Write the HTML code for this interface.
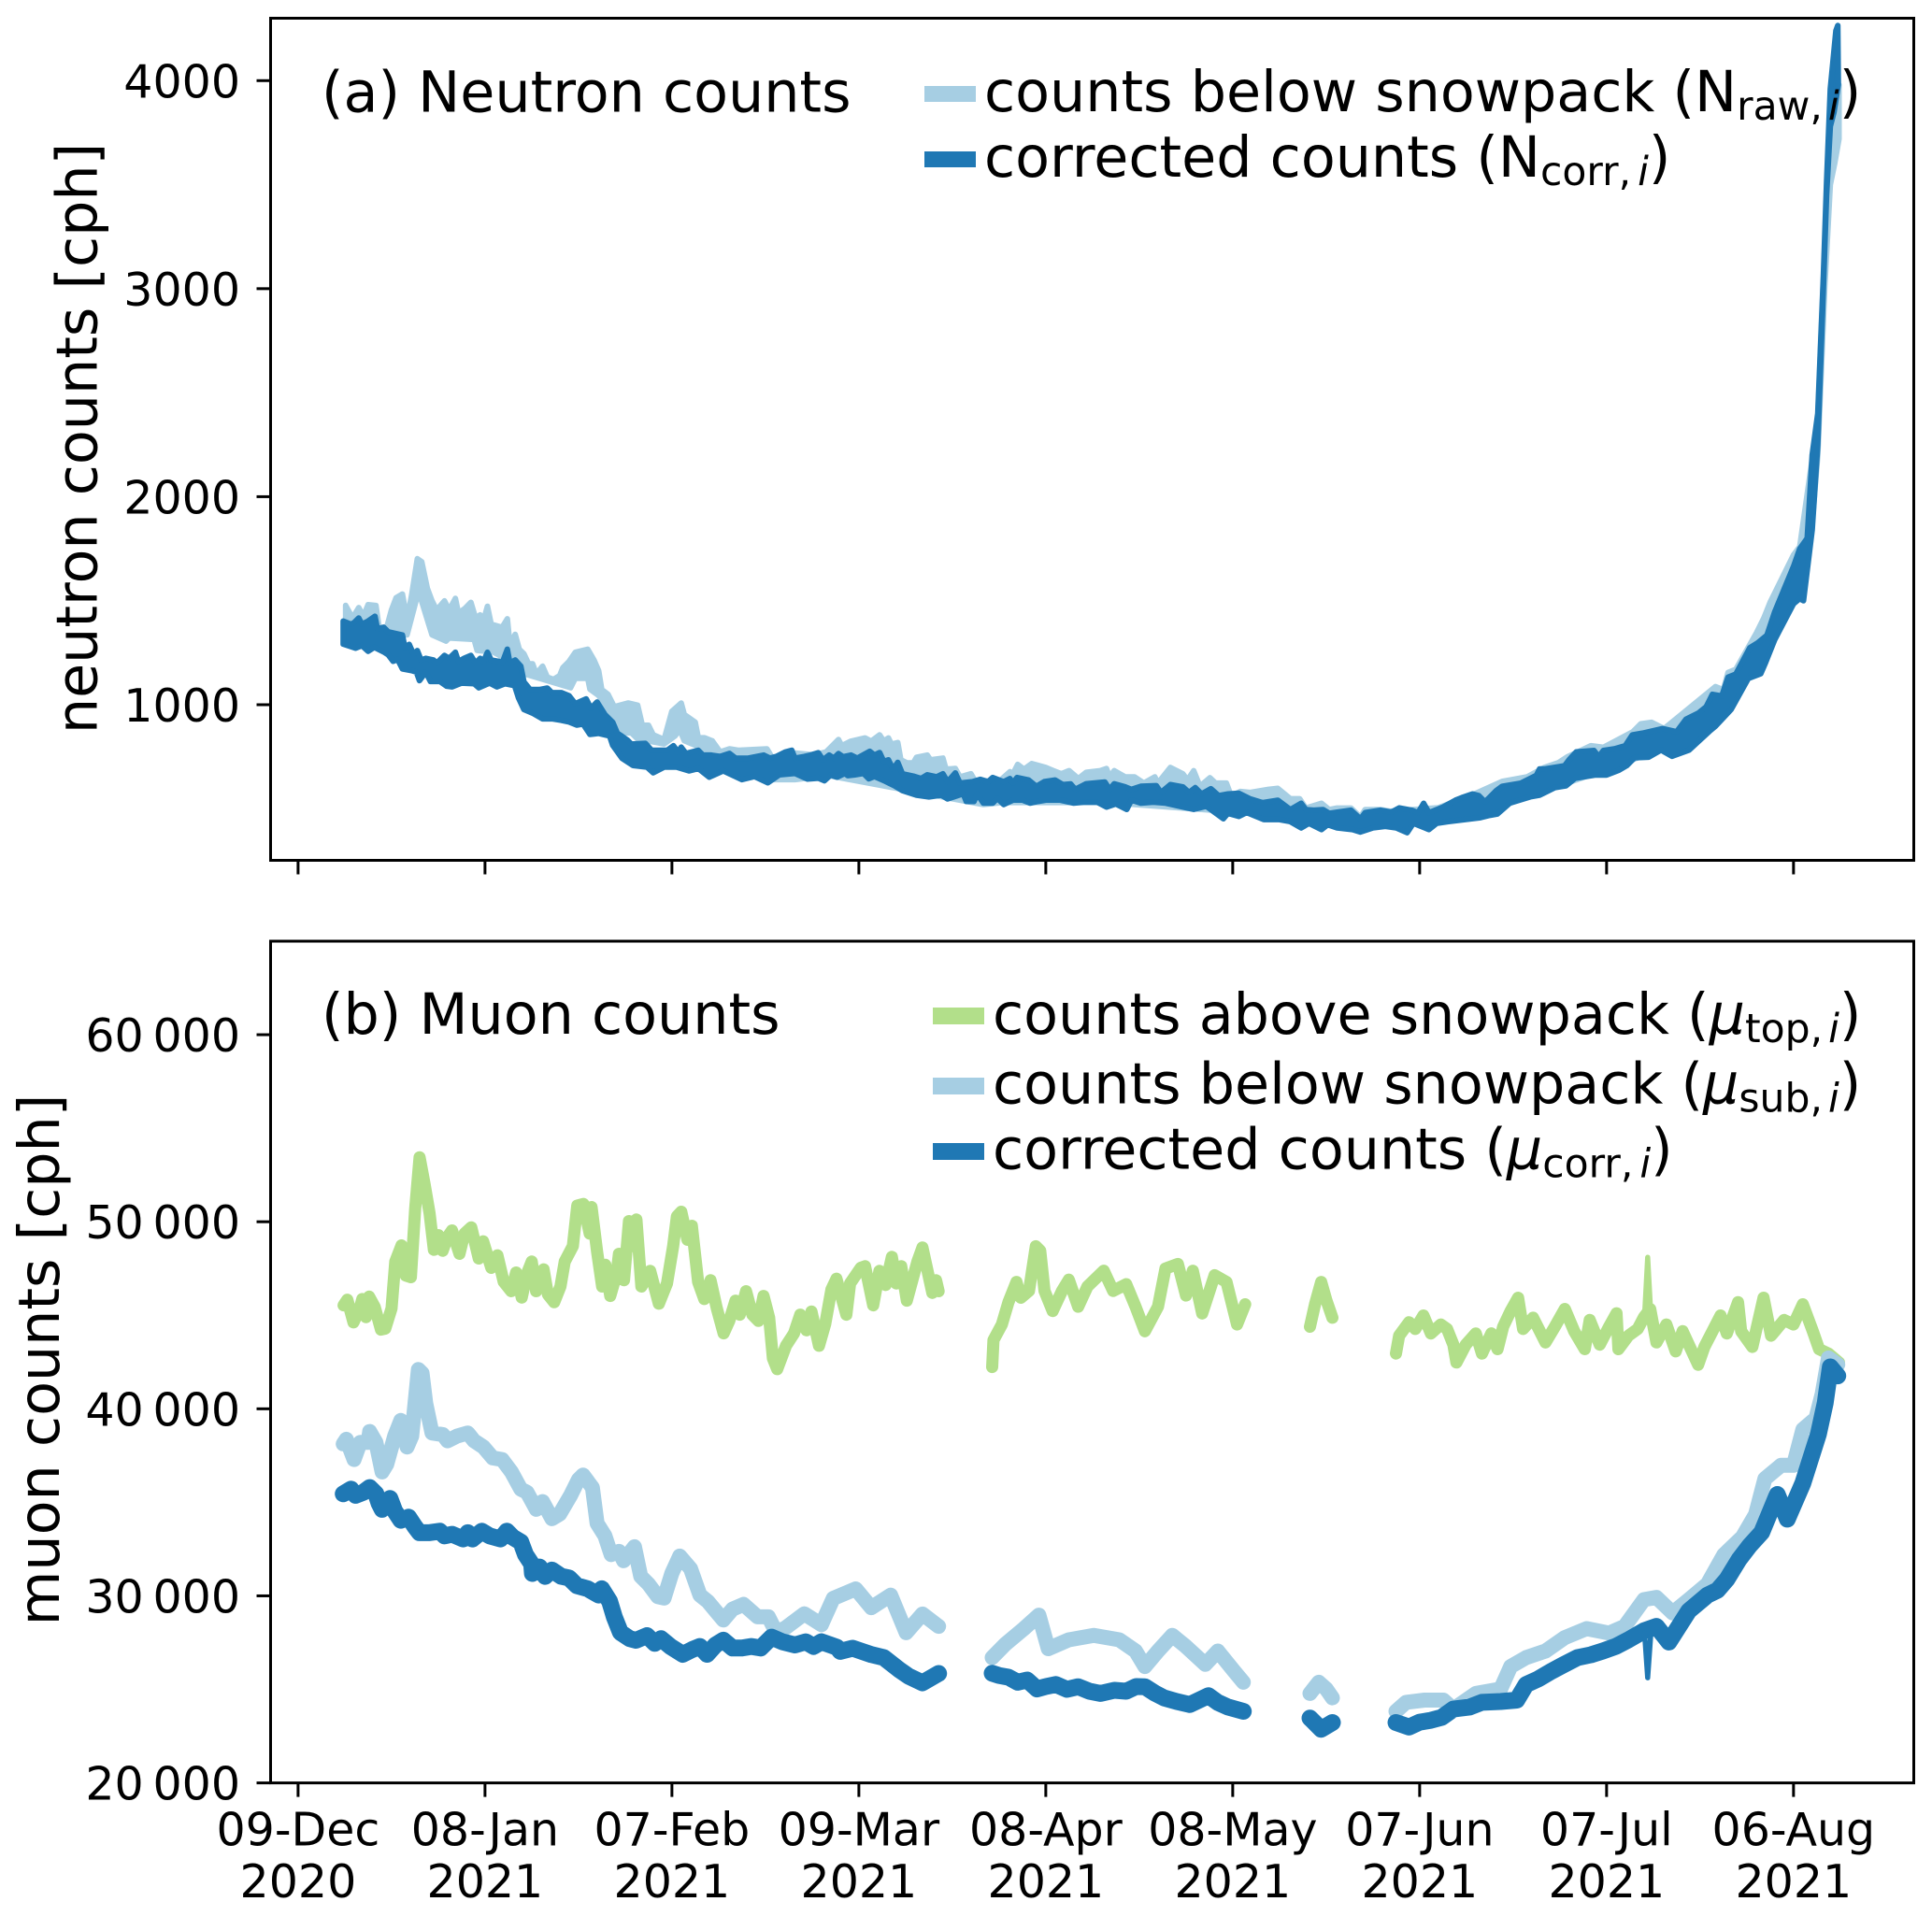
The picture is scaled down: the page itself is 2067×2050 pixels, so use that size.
<!DOCTYPE html>
<html lang="en">
<head>
<meta charset="utf-8">
<title>Neutron and muon counts</title>
<style>
html,body{margin:0;padding:0;background:#fff;}
svg{display:block;}
text{font-family:"DejaVu Sans","Liberation Sans",sans-serif;fill:#000;}
.tick{font-size:49px;}
.label{font-size:60.3px;}
.leg{font-size:60.3px;}
.sub{font-size:42.5px;}
.it{font-style:italic;}
</style>
</head>
<body>
<svg id="chart" xmlns="http://www.w3.org/2000/svg" width="2067" height="2050" viewBox="0 0 2067 2050">
  <rect x="0" y="0" width="2067" height="2050" fill="#ffffff"/>
  <g id="panel-a-marks"></g>
  <g id="panel-b-marks"></g>
  <rect x="289.5" y="19.5" width="1758" height="901" fill="none" stroke="#000" stroke-width="3"/>
  <rect x="289.5" y="1007" width="1758" height="900.6" fill="none" stroke="#000" stroke-width="3"/>
  <g id="axes-a"></g>
  <g id="axes-b"></g>

  <text class="label" transform="translate(103.5 469) rotate(-90)" text-anchor="middle">neutron counts [cph]</text>
  <text class="label" transform="translate(63 1455) rotate(-90)" text-anchor="middle">muon counts [cph]</text>

  <text class="label" x="344" y="119.5">(a) Neutron counts</text>
  <text class="label" x="344" y="1106">(b) Muon counts</text>

  <g>
    <rect x="989" y="92" width="55" height="17" fill="#a6cee3"/>
    <text class="leg" x="1053" y="119">counts below snowpack (N<tspan class="sub" dy="9">raw,</tspan><tspan class="sub it" dx="6">i</tspan><tspan dy="-9">)</tspan></text>
    <rect x="989" y="162" width="55" height="17" fill="#1f78b4"/>
    <text class="leg" x="1053" y="189">corrected counts (N<tspan class="sub" dy="9">corr,</tspan><tspan class="sub it" dx="7">i</tspan><tspan dy="-9">)</tspan></text>
  </g>
  <g>
    <rect x="998" y="1078" width="55" height="18" fill="#b2df8a"/>
    <text class="leg" x="1062" y="1106">counts above snowpack (<tspan class="it">μ</tspan><tspan class="sub" dy="9">top,</tspan><tspan class="sub it" dx="6">i</tspan><tspan dy="-9">)</tspan></text>
    <rect x="998" y="1153" width="55" height="18" fill="#a6cee3"/>
    <text class="leg" x="1062" y="1180.5">counts below snowpack (<tspan class="it">μ</tspan><tspan class="sub" dy="9">sub,</tspan><tspan class="sub it" dx="6">i</tspan><tspan dy="-9">)</tspan></text>
    <rect x="998" y="1223" width="55" height="18" fill="#1f78b4"/>
    <text class="leg" x="1062" y="1250.5">corrected counts (<tspan class="it">μ</tspan><tspan class="sub" dy="9">corr,</tspan><tspan class="sub it" dx="7">i</tspan><tspan dy="-9">)</tspan></text>
  </g>
</svg>
<script>
// ---- axis tick data (days counted from 09-Dec-2020) ----
const xTickDays = [0,30,60,90,120,150,180,210,240];
const xTickDates = ['09-Dec','08-Jan','07-Feb','09-Mar','08-Apr','08-May','07-Jun','07-Jul','06-Aug'];
const xTickYears = ['2020','2021','2021','2021','2021','2021','2021','2021','2021'];
const neutronTicks = [1000,2000,3000,4000];
const neutronTickLabels = ['1000','2000','3000','4000'];
const muonTicks = [20000,30000,40000,50000,60000];
const muonTickLabels = ['20\u2009000','30\u2009000','40\u2009000','50\u2009000','60\u2009000'];

// ---- neutron: raw counts, upper and lower edge of the noisy band ----
const rawUpperDays = [7.64,8.74,9.74,10.49,11.24,12.49,12.99,14.24,14.99,15.74,16.74,17.49,18.24,19.14,19.84,20.74,21.49,22.24,23.49,24.24,25.24,25.74,26.74,27.74,28.49,29.24,29.74,30.39,30.99,32.74,33.59,33.99,34.84,35.49,36.24,36.99,37.64,38.24,39.24,39.99,40.99,41.99,42.49,43.49,44.49,46.49,47.49,48.24,48.74,49.74,50.74,52.99,54.49,55.24,56.24,56.99,58.74,59.99,61.49,61.99,63.74,64.24,65.24,66.49,67.74,69.24,70.74,75.24,75.99,76.9,79,82.9,84.74,85.74,86.74,87.24,88.74,90.99,91.99,93.34,93.99,94.74,95.24,96.24,96.74,97.74,98.74,99.24,100.99,101.49,103.49,103.99,105.49,106.24,107.99,108.74,112.74,114.24,114.74,115.49,116.49,117.74,119.99,121.24,122.49,123.74,125.24,126.49,128.74,129.74,130.24,130.99,132.74,134.24,135.74,137.49,137.99,139.99,141.99,142.74,143.74,144.74,146.34,147.24,148.99,149.74,151.24,152.74,155.74,157.24,159.24,160.74,161.74,164.24,165.49,166.74,168.99,170.49,171.24,173.74,175.24,183,188,193.24,197.24,199.99,202.24,203.74,207.49,209.49,214.24,215.49,217.24,219.24,227.49,228.74,229.49,230.74,233.99,235.24,236.24,240,241,243,243.9,244.8,245.9,246.7,247.3];
const rawUpperCounts = [1477,1417,1467,1425,1481,1477,1372,1372,1455,1514,1532,1410,1529,1702,1687,1559,1499,1455,1499,1455,1511,1440,1462,1492,1417,1432,1402,1473,1387,1372,1413,1290,1338,1267,1245,1197,1197,1148,1185,1133,1122,1140,1178,1208,1252,1267,1215,1163,1073,1050,990,1008,998,901,901,856,833,968,1008,953,916,841,841,826,773,788,781,788,751,744,770,759,773,803,833,803,825,840,825,855,825,840,810,818,735,720,720,747,758,735,743,690,693,653,668,630,638,678,668,713,690,717,698,683,668,683,645,675,683,693,653,683,653,653,623,653,623,698,668,638,683,608,649,623,623,563,583,578,593,598,548,548,503,526,496,503,503,459,496,496,488,505,560,631,653,698,721,750,803,795,870,908,915,885,1087,1072,1155,1170,1342,1417,1492,1720,1760,2180,2380,3040,3900,4000,3980];
const rawLowerDays = [7.64,17.49,19.34,21.49,23.74,24.24,28.24,28.74,31.24,32.24,36.24,43.74,44.49,46.49,46.84,48.24,51.24,52.24,53.49,54.49,58.74,60.49,61.24,61.99,63.74,76.24,79.74,85,109.99,113,130,148,156,160,172,185.74,190,210,220,226,232,236.9,241,243,243.9,245,245.9,246.6,247.3];
const rawLowerCounts = [1299,1336,1546,1336,1306,1321,1314,1261,1254,1239,1149,1082,1127,1127,1074,1044,910,865,865,835,812,850,880,827,805,640,640,660,520,530,530,490,470,440,430,450,480,690,800,900,1160,1360,1540,1870,2200,3000,3500,3600,3720];

// ---- neutron: corrected counts, upper and lower edge of the noisy band ----
const corrUpperDays = [7.24,8.49,9.0,9.74,10.24,11.24,12.34,12.74,13.74,14.49,15.74,16.74,17.14,17.84,18.49,19.14,19.74,20.49,21.74,22.24,23.49,24.24,25.24,25.74,26.64,27.74,28.49,29.24,29.74,30.39,30.99,32.24,32.74,33.59,33.99,34.84,35.74,36.24,37.24,38.74,39.99,40.74,42.24,43.49,44.49,46.24,46.99,47.99,49.24,50.49,51.24,51.99,52.84,53.49,55.74,56.74,58.24,59.24,60.24,60.99,61.49,62.24,64.24,64.99,66.24,67.74,69.24,70.24,72.24,74.74,75.74,76.74,78.24,79.24,79.74,81.24,82.24,83.49,84.24,85.24,85.99,86.74,87.49,88.74,89.74,91.74,92.49,93.34,93.99,94.74,95.49,96.24,96.99,98.74,99.99,100.99,102.49,103.49,104.24,105.49,106.24,108.24,109.49,110.74,111.49,113.24,114.24,114.74,115.39,117.24,118.49,119.74,121.49,122.74,123.99,124.74,126.49,129.49,130.24,130.99,132.74,133.74,135.24,137.74,138.49,139.99,141.99,142.99,143.99,144.99,146.49,147.74,149.24,150.99,152.74,154.74,157.24,159.24,160.99,161.74,162.99,164.49,165.49,168.99,170.49,171.24,173.74,175.49,176.74,178.74,179.74,180.64,181.49,183.74,185.74,186.74,188.49,189.49,190.49,192.24,193.24,196.24,198.74,199.24,199.99,203.24,203.99,205.14,207.99,208.74,209.49,211.24,212.99,214.14,215.74,218.99,221.24,222.74,224.74,225.99,226.99,228.49,229.49,230.74,232.99,234.24,235.74,236.99,240,241,242.2,243,243.9,244.8,245.3,245.9,246.8,247.1];
const corrUpperCounts = [1402,1387,1395,1417,1387,1402,1425,1365,1372,1350,1342,1335,1275,1290,1245,1260,1215,1223,1215,1200,1237,1223,1252,1208,1223,1237,1200,1223,1208,1252,1215,1208,1200,1267,1200,1215,1185,1110,1073,1073,1080,1058,1058,1043,1005,1028,983,1013,953,916,863,848,830,811,814,781,781,781,803,773,796,766,781,758,758,751,766,743,743,758,743,751,773,781,743,751,758,769,735,758,743,765,750,758,743,776,758,770,728,735,690,723,668,657,645,663,653,668,630,672,623,630,641,630,650,630,645,623,650,638,608,630,638,616,619,593,620,628,593,620,605,593,608,611,578,616,605,578,601,571,596,563,571,574,548,529,541,496,526,496,493,496,478,493,451,481,493,484,504,493,481,526,481,508,541,553,571,563,533,586,608,623,661,691,691,706,736,773,780,750,780,788,803,855,863,885,870,930,960,990,1050,1042,1132,1147,1274,1297,1334,1447,1664,1750,1800,2200,2400,3060,3510,3960,4240,4265];
const corrLowerDays = [7.24,7.99,9.24,10.24,11.24,12.24,13.74,14.49,15.24,15.99,16.74,18.24,18.99,19.49,20.49,21.24,22.74,23.84,24.74,26.24,28.24,28.99,30.74,31.89,33.24,34.74,35.39,36.24,37.74,39.24,40.74,42.24,43.49,44.74,45.74,46.84,48.24,49.99,50.49,51.99,53.74,55.99,56.99,58.74,60.74,62.74,64.24,65.99,68.24,71.24,73.24,75.39,77.24,79.74,81.74,83.49,84.49,85.49,86.49,87.74,88.24,89.24,90.74,91.59,92.49,94.24,95.74,96.99,99.24,101.24,103.24,104.24,106.74,107.24,108.49,108.99,109.99,111.49,112.24,113.24,114.74,116.24,117.49,118.74,119.99,122.24,124.49,126.24,128.24,129.74,131.24,132.99,133.74,135.24,137.24,139.24,141.99,143.74,145.74,148.49,149.24,150.99,152.24,154.99,157.49,159.24,160.99,162.24,164.24,165.24,166.74,169.24,170.49,172.49,174.49,176.24,177.99,178.99,181.49,182.74,184.49,189.74,191.24,192.49,194.49,197.74,199.24,201.74,203.49,204.99,208.24,209.99,211.99,213.24,214.49,216.74,218.74,220.49,223.24,226.49,227.49,229.99,232.74,234.74,235.49,236.99,240,241,241.6,243,243.9,244.8,245.3,245.9,246.5,247.2];
const corrLowerCounts = [1291,1284,1272,1284,1257,1276,1254,1239,1209,1217,1172,1164,1157,1116,1157,1112,1112,1089,1086,1104,1101,1082,1104,1086,1101,1092,1032,977,958,932,932,925,917,902,907,857,862,850,805,742,708,700,673,700,700,682,693,652,682,640,655,625,663,670,643,647,635,662,652,670,659,662,670,644,655,632,610,587,565,557,565,547,572,535,535,572,527,527,550,520,542,542,527,535,542,542,527,532,532,508,523,497,542,527,532,527,508,497,512,452,478,463,482,448,448,438,408,430,400,423,408,400,388,408,415,408,385,430,400,430,438,457,468,475,527,557,565,602,610,647,662,662,685,707,745,748,782,752,782,872,897,977,1126,1149,1201,1313,1485,1510,1500,1840,2250,3000,3450,3780,3850,3980];

// ---- muon: counts above snowpack (null = data gap) ----
const topDays = [7.3,7.9,8.9,9.9,10.3,10.9,11.4,12.3,13.3,14.0,15.0,15.6,16.6,17.3,18.1,18.8,19.5,20.3,21.1,21.8,22.5,23.2,24.0,24.7,25.9,26.7,27.8,29.0,29.7,31.0,32.0,33.0,34.2,35.0,35.9,36.7,37.5,38.2,39.4,40.1,41.1,42.1,42.8,44.1,44.8,45.8,46.8,47.1,48.0,48.8,49.3,50.1,51.1,51.5,52.3,53.1,53.6,54.3,55.1,56.5,57.9,59.2,60.2,60.8,61.5,62.5,63.2,64.2,65.2,66.2,67.2,68.3,69.2,70.2,70.9,71.9,72.9,73.9,74.7,75.6,76.2,76.9,78.3,79.6,80.6,81.6,82.4,83.6,84.6,85.6,86.4,88.0,88.6,90.3,91.0,92.3,93.3,94.3,95.3,96.0,96.8,97.7,99.4,100.2,101.8,102.4,102.8,null,
111.4,111.6,112.95,114,115.3,116,117.3,118.4,119.1,119.8,121.1,122.6,123.7,125.2,126.7,129.3,130.8,132.9,134.4,135.9,138,139.2,141.2,142.5,143.6,145.1,147.1,149,150.7,152,null,
162.4,163.2,164.2,165,166,null,
176.2,176.7,178.3,179.3,180.6,181.8,183.4,184.4,185.4,185.9,187.4,189,190,191.5,192.5,193.4,194.6,195.8,196.6,198.2,200.2,201.7,203.3,204.8,206.5,207.3,208.9,210.4,211.6,211.9,213.5,215,216,217,218,219.6,221.1,222.2,224.7,225.7,228.3,229.3,231.1,231.6,233.4,235.2,236.4,238.5,240,241.5,243.1,244.1,245.6,247.3];
const topCounts = [45535,45835,44620,45370,45870,44900,46000,45450,44235,44290,45370,47870,48735,47120,47035,50700,53450,52030,50450,48500,49285,48450,49200,49535,48285,49365,49700,48035,48950,47535,48200,46785,46285,47285,45950,47200,47870,46285,47450,46120,45700,46535,47870,48700,50865,50950,49365,50785,48370,46535,47700,46035,47200,48285,46870,50035,48700,50120,46535,47370,45620,46700,48700,50285,50535,49035,49785,46785,45870,46870,45370,44035,44700,45785,45035,46285,45035,44700,46035,44870,42700,42120,43370,44035,45035,44200,45200,43370,44535,46370,46950,45035,46700,47535,47620,45535,47370,46620,48120,46700,47620,45785,47870,48620,46200,46870,46285,null,
42237,43672,44510,45700,46780,45940,46300,48690,48450,46300,45226,46300,46900,45460,46540,47380,46300,46660,45460,44150,45460,47500,47740,46060,47380,45100,47140,46780,44510,45590,null,
44390,45590,46780,45830,44870,null,
42955,43910,44630,44270,44990,44030,44510,44270,43430,42477,43430,44030,42955,44030,43190,44390,45226,45940,44270,44870,43550,44390,45340,44150,43190,44750,43430,44390,45110,43190,43910,44270,44900,45340,43550,44510,43070,44150,42357,43310,44990,44030,45700,44150,43310,45940,43910,44750,44510,45590,44150,43190,42955,42477];
const topSpikeDays = [216.1,216.6,217.1];
const topSpikeCounts = [45000,48095,45000];

// ---- muon: counts below snowpack ----
const subDays = [7.24,7.74,8.99,9.99,11.24,11.49,12.49,13.49,14.24,15.49,16.49,17.49,18.24,19.3,19.9,20.49,21.49,23.24,23.99,25.49,27.24,28.24,29.74,31.24,32.74,34.24,35.74,36.74,38.24,39.24,40.74,41.99,43.74,44.99,45.74,47.24,47.99,49.24,50.24,51.49,52.24,53.99,54.99,56.24,57.74,58.74,59.99,61.24,62.99,64.49,65.74,68.24,69.74,71.49,73.74,75.49,76.74,78.24,81.24,83.99,85.9,89.5,92,95.1,97.6,100.2,102.8,null,
111.4,113.5,116.5,118.9,120.4,123.7,127.7,131.8,134.4,135.9,138,140.3,142.5,145.6,147.6,150.2,151.7,null,
162.4,163.8,165,166,null,
176.2,177.8,180.8,183.8,185.4,189,193,194.6,197.1,200.2,203.3,206.8,210.4,212.9,216,218,220.6,223.2,226.2,228.8,231.8,233.9,235.4,238,240,241.5,243.6,244.6,245.6,247.1];
const subCounts = [38123,38373,37290,38206,38206,38789,38206,36624,37040,38539,39376,37956,38539,42100,41900,40289,38706,38623,38290,38539,38706,38290,37956,37373,37290,36624,35707,35541,34624,35041,34124,34374,35374,36207,36457,35790,33875,33208,32209,32375,31876,32625,31042,30626,29960,29876,31209,32125,31459,30043,29710,28710,29293,29543,28877,28877,28044,28294,29043,28460,29870,30375,29370,30040,28030,29030,28370,null,
26700,27410,28250,28970,27175,27650,27890,27650,27050,26220,27050,27890,27290,26340,27050,25980,25380,null,
24780,25380,25020,24545,null,
23825,24305,24425,24425,23945,24780,25020,26220,26700,27050,27770,28250,28010,28370,29800,29920,29090,29800,30640,32190,33150,34350,36260,36980,36980,38890,39490,40800,42720,42360];

// ---- muon: corrected counts ----
const muCorrDays = [7.24,8.49,9.24,10.49,11.49,12.49,12.99,13.49,14.74,15.49,16.49,17.74,18.74,19.49,20.99,22.74,23.49,24.74,26.49,27.24,27.99,29.49,30.74,32.49,33.49,34.49,35.74,36.49,37.49,37.6,38.74,39.64,40.74,42.24,43.49,44.74,46.49,48.24,48.74,49.99,50.74,51.74,53.24,54.24,55.99,57.24,58.24,59.74,61.74,63.24,64.49,65.64,66.99,68.24,69.74,71.24,72.74,74.24,75.99,77.74,79.74,81.49,82.74,83.99,86.5,87,89,92,94,96.6,98,100.2,102.8,null,
111.4,112.5,114,115.5,117,118.6,120,121.6,123.4,125.2,127,128.8,131,132.9,134.5,135.9,137.5,139,141,143.1,146.1,147.6,149.2,151.7,null,
162.4,164.2,166,null,
176.2,178.3,180,181.8,183.5,185.4,188,190,193,195.6,197.1,199,201.2,203,205.3,207.5,209.4,211.5,213.5,216,218,220,223.2,226.2,227.8,229.3,231.3,233,234.9,237.4,239,241.5,244,245.1,245.9,247.1];
const muCorrCounts = [35457,35707,35374,35540,35790,35457,34957,34624,35207,34541,34041,34208,33708,33375,33375,33458,33208,33291,33041,33375,33041,33458,33208,33041,33458,33125,32875,32209,31709,31200,31542,31042,31375,31042,30959,30543,30376,30043,30376,29710,28877,28044,27711,27627,27877,27461,27711,27294,26877,27127,27294,26877,27377,27628,27211,27211,27294,27211,27794,27544,27377,27544,27294,27544,27250,27030,27200,26860,26700,26020,25700,25350,25850,null,
25860,25740,25650,25380,25500,25020,25150,25260,25000,25140,24900,24780,24950,24900,25150,25140,24800,24540,24350,24185,24660,24300,24060,23825,null,
23470,22870,23230,null,
23230,22990,23250,23350,23500,23945,24050,24305,24350,24425,25260,25550,25980,26300,26695,26850,27050,27300,27650,28130,28370,27530,29200,30040,30300,30880,31960,32700,33390,35420,34100,36020,38650,40325,42240,41760];
const corrSpikeDays = [216.1,216.6,217.1];
const corrSpikeCounts = [28000,25620,28000];

// ---- axis functions ----
const dayMin = -4.41, dayMax = 259.3, plotLeft = 289.5, plotRight = 2047.5;
function xOf(day){ return plotLeft + (day - dayMin) / (dayMax - dayMin) * (plotRight - plotLeft); }
function yNeutron(v){ return 920.5 - (v - 252) / (4300 - 252) * 901; }
function yMuon(v){ return 1907.6 - (v - 20000) / (65000 - 20000) * 900.6; }

const SVGNS = 'http://www.w3.org/2000/svg';
function linePath(days, vals, yFn){
  let d = '', pen = false;
  for (let i = 0; i < vals.length; i++){
    if (vals[i] === null || days[i] === null){ pen = false; continue; }
    d += (pen ? 'L' : 'M') + xOf(days[i]).toFixed(1) + ' ' + yFn(vals[i]).toFixed(1);
    pen = true;
  }
  return d;
}
function bandPath(upD, upV, loD, loV, yFn){
  let d = '';
  for (let i = 0; i < upV.length; i++) d += (i ? 'L' : 'M') + xOf(upD[i]).toFixed(1) + ' ' + yFn(upV[i]).toFixed(1);
  for (let i = loV.length - 1; i >= 0; i--) d += 'L' + xOf(loD[i]).toFixed(1) + ' ' + yFn(loV[i]).toFixed(1);
  return d + 'Z';
}
function makePath(parent, d, stroke, width, fill){
  const p = document.createElementNS(SVGNS, 'path');
  p.setAttribute('d', d);
  p.setAttribute('stroke', stroke);
  p.setAttribute('stroke-width', width);
  p.setAttribute('fill', fill);
  p.setAttribute('stroke-linejoin', 'round');
  p.setAttribute('stroke-linecap', 'round');
  parent.appendChild(p);
  return p;
}
const gA = document.getElementById('panel-a-marks');
const gB = document.getElementById('panel-b-marks');

const rawBand = makePath(gA, bandPath(rawUpperDays, rawUpperCounts, rawLowerDays, rawLowerCounts, yNeutron), '#a6cee3', 6, '#a6cee3');


const corrBand = makePath(gA, bandPath(corrUpperDays, corrUpperCounts, corrLowerDays, corrLowerCounts, yNeutron), '#1f78b4', 6, '#1f78b4');



const topLine = makePath(gB, linePath(topDays, topCounts, yMuon), '#b2df8a', 13, 'none');


const topSpike = makePath(gB, linePath(topSpikeDays, topSpikeCounts, yMuon), '#b2df8a', 5.5, 'none');


const subLine = makePath(gB, linePath(subDays, subCounts, yMuon), '#a6cee3', 16, 'none');


const muCorrLine = makePath(gB, linePath(muCorrDays, muCorrCounts, yMuon), '#1f78b4', 18, 'none');


const corrSpike = makePath(gB, linePath(corrSpikeDays, corrSpikeCounts, yMuon), '#1f78b4', 5.5, 'none');



// ---- ticks and tick labels ----
function makeLine(parent, x1, y1, x2, y2){
  const l = document.createElementNS(SVGNS, 'line');
  l.setAttribute('x1', x1); l.setAttribute('y1', y1);
  l.setAttribute('x2', x2); l.setAttribute('y2', y2);
  l.setAttribute('stroke', '#000');
  l.setAttribute('stroke-width', '3');
  parent.appendChild(l);
  return l;
}
function makeText(parent, x, y, anchor, str){
  const t = document.createElementNS(SVGNS, 'text');
  t.setAttribute('x', x); t.setAttribute('y', y);
  t.setAttribute('text-anchor', anchor);
  t.setAttribute('class', 'tick');
  t.textContent = str;
  parent.appendChild(t);
  return t;
}
const axA = document.getElementById('axes-a');
const axB = document.getElementById('axes-b');

xTickDays.forEach(function(day, i){
  const x = xOf(day);
  const ta = makeLine(axA, x, 920.5, x, 935.5);
  
  
  const tb = makeLine(axB, x, 1907.6, x, 1922.6);
  
  
  const date = makeText(axB, x, 1974.5, 'middle', xTickDates[i]);
  
  
  const year = makeText(axB, x, 2030, 'middle', xTickYears[i]);
  
  
});
neutronTicks.forEach(function(v, i){
  const y = yNeutron(v);
  const t = makeLine(axA, 274.5, y, 289.5, y);
  
  
  const lab = makeText(axA, 257, y + 18, 'end', neutronTickLabels[i]);
  
  
});
muonTicks.forEach(function(v, i){
  const y = yMuon(v);
  const t = makeLine(axB, 274.5, y, 289.5, y);
  
  
  const lab = makeText(axB, 257, y + 18, 'end', muonTickLabels[i]);
  
  
});
</script>
</body>
</html>
